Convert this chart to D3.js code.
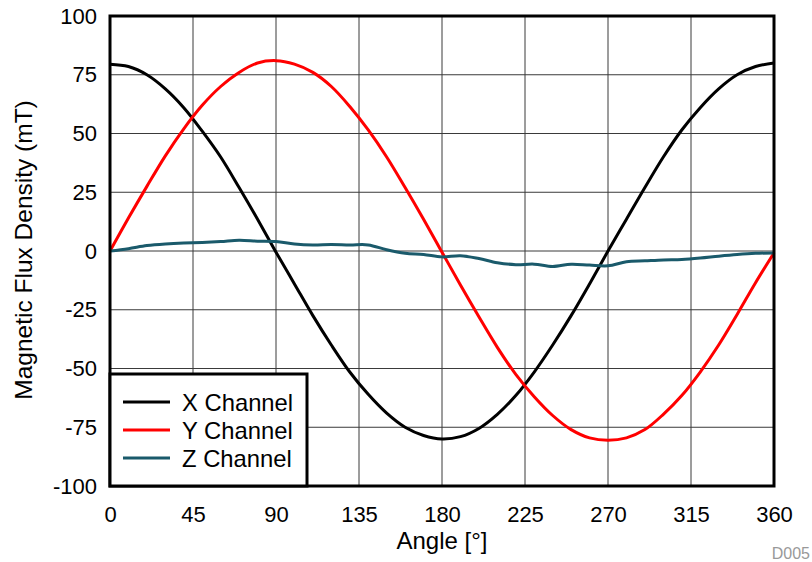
<!DOCTYPE html>
<html>
<head>
<meta charset="utf-8">
<script src="https://cdn.jsdelivr.net/npm/d3@7"></script>
<style>
  body { margin: 0; background: #fff; }
  svg { display: block; font-family: "Liberation Sans", Arial, sans-serif; }
</style>
</head>
<body>
<svg id="chart" width="812" height="562"></svg>
<script>
// Sensor readings versus rotation angle (10° steps)
const angles = d3.range(0, 361, 10);
const xChannel = [79.5, 78.5, 75.0, 69.0, 61.0, 51.0, 40.0, 27.0, 13.5, -0.5,
  -14.0, -27.5, -40.0, -51.5, -61.0, -69.0, -75.0, -78.5, -80.0, -79.0,
  -75.5, -69.5, -61.5, -51.5, -40.0, -27.5, -14.0, 0.0, 13.5, 27.0,
  40.0, 51.5, 61.0, 69.0, 75.0, 78.5, 80.0];
const yChannel = [0.0, 14.0, 27.5, 40.5, 52.0, 62.0, 70.0, 76.0, 80.0, 81.0,
  79.5, 76.0, 70.0, 61.5, 51.5, 40.0, 27.0, 13.5, -0.5, -14.5,
  -28.0, -41.0, -52.5, -62.0, -70.0, -76.0, -79.5, -80.5, -79.5, -76.0,
  -69.5, -61.5, -51.5, -40.0, -27.0, -13.5, -0.8];
const zChannel = [0.0, 1.0, 2.3, 3.0, 3.4, 3.6, 4.0, 4.6, 4.2, 4.0,
  3.0, 2.6, 2.8, 2.6, 2.6, 0.5, -1.0, -1.5, -2.5, -2.0,
  -3.2, -5.0, -5.8, -5.6, -6.6, -5.6, -6.0, -6.3, -4.6, -4.2,
  -3.8, -3.6, -3.0, -2.2, -1.5, -1.0, -0.8];

const seriesNames = ["X Channel", "Y Channel", "Z Channel"];
const seriesColors = ["#000000", "#ff0000", "#1a5a6b"];
const seriesValues = [xChannel, yChannel, zChannel];

const xTicks = [0, 45, 90, 135, 180, 225, 270, 315, 360];
const yTicks = [-100, -75, -50, -25, 0, 25, 50, 75, 100];

const plotLeft = 110, plotRight = 774, plotTop = 16, plotBottom = 486;
const svg = d3.select("#chart");

const x = d3.scaleLinear().domain([0, 360]).range([plotLeft, plotRight]);
const y = d3.scaleLinear().domain([-100, 100]).range([plotBottom, plotTop]);

// Grid
const grid = svg.append("g");
grid.selectAll("line.v").data(xTicks).join("line")
  .attr("class", "v")
  .attr("x1", d => x(d)).attr("x2", d => x(d))
  .attr("y1", plotTop).attr("y2", plotBottom)
  .attr("stroke", "#3a3a3a").attr("stroke-width", 1);
grid.selectAll("line.h").data(yTicks).join("line")
  .attr("class", "h")
  .attr("x1", plotLeft).attr("x2", plotRight)
  .attr("y1", d => y(d)).attr("y2", d => y(d))
  .attr("stroke", "#3a3a3a").attr("stroke-width", 1);

// Axes (labels only), plain hyphen for negatives
const fmt = d => String(d);
const xAxis = svg.append("g").attr("transform", `translate(0,${plotBottom})`)
  .call(d3.axisBottom(x).tickValues(xTicks).tickFormat(fmt).tickSize(0).tickPadding(20));
const yAxis = svg.append("g").attr("transform", `translate(${plotLeft},0)`)
  .call(d3.axisLeft(y).tickValues(yTicks).tickFormat(fmt).tickSize(0).tickPadding(13));
[xAxis, yAxis].forEach(a => {
  a.select(".domain").remove();
  a.selectAll("text").attr("font-size", 22).attr("fill", "#000")
    .attr("font-family", "'Liberation Sans', Arial, sans-serif");
});

// Series lines
const line = d3.line()
  .x((d, i) => x(angles[i]))
  .y(d => y(d))
  .curve(d3.curveCatmullRom.alpha(0.5));

svg.append("g").selectAll("path").data(seriesValues).join("path")
  .attr("d", d => line(d))
  .attr("fill", "none")
  .attr("stroke", (d, i) => seriesColors[i])
  .attr("stroke-width", 3)
  .attr("stroke-linejoin", "round");

// Plot frame
svg.append("rect")
  .attr("x", plotLeft).attr("y", plotTop)
  .attr("width", plotRight - plotLeft).attr("height", plotBottom - plotTop)
  .attr("fill", "none").attr("stroke", "#000").attr("stroke-width", 3);

// Legend
const lg = svg.append("g");
lg.append("rect")
  .attr("x", plotLeft).attr("y", 374)
  .attr("width", 197).attr("height", plotBottom - 374)
  .attr("fill", "#fff").attr("stroke", "#000").attr("stroke-width", 3);
seriesNames.forEach((name, i) => {
  const yy = 402 + i * 28;
  lg.append("line")
    .attr("x1", 123).attr("x2", 170).attr("y1", yy).attr("y2", yy)
    .attr("stroke", seriesColors[i]).attr("stroke-width", 3);
  lg.append("text")
    .attr("x", 182).attr("y", yy + 9)
    .attr("font-size", 23.8).attr("fill", "#000")
    .text(name);
});

// Axis titles
svg.append("text")
  .attr("x", 442).attr("y", 549)
  .attr("text-anchor", "middle").attr("font-size", 24)
  .text("Angle [°]");
svg.append("text")
  .attr("transform", `translate(32,${(plotTop + plotBottom) / 2 - 1}) rotate(-90)`)
  .attr("text-anchor", "middle").attr("font-size", 24.5)
  .text("Magnetic Flux Density (mT)");

// Figure id
svg.append("text")
  .attr("x", 810).attr("y", 559)
  .attr("text-anchor", "end").attr("font-size", 16).attr("fill", "#999")
  .text("D005");
</script>
</body>
</html>
